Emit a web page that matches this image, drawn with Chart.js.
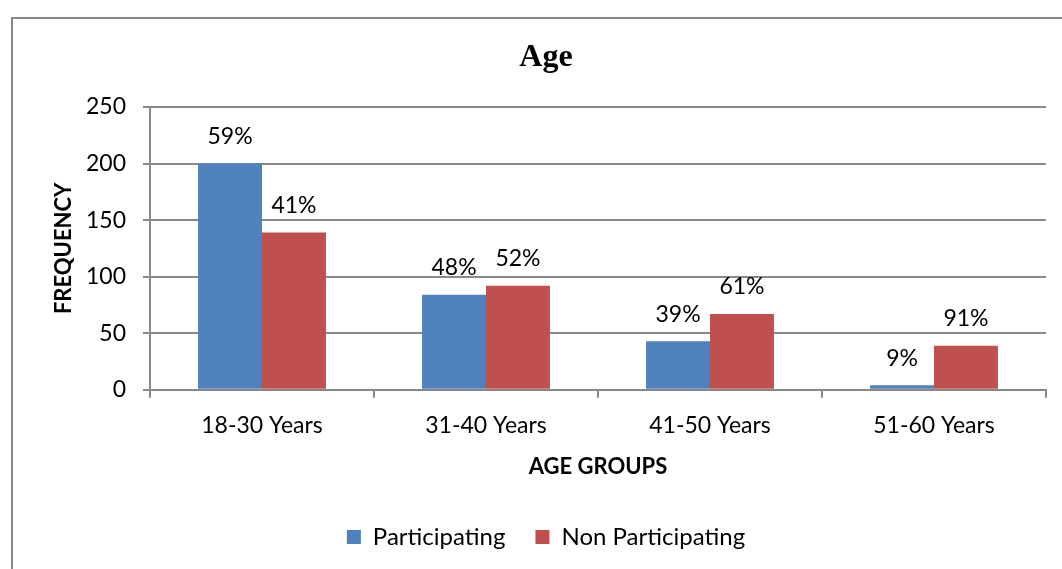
<!DOCTYPE html>
<html><head><meta charset="utf-8">
<script src="https://cdn.jsdelivr.net/npm/chart.js@4"></script>
<style>
html,body{margin:0;padding:0;background:#fff;overflow:hidden;width:1062px;height:569px;}
#frame{position:absolute;left:11px;top:17px;width:1200px;height:700px;border:2px solid #898989;box-sizing:border-box;}
#c{position:absolute;left:0;top:0;}
</style></head><body>
<div id="frame"></div>
<canvas id="c" width="1062" height="564"></canvas>
<script>
const categories = ['18-30 Years', '31-40 Years', '41-50 Years', '51-60 Years'];
const participating = [200, 84, 43, 4];
const nonParticipating = [139, 92, 67, 39];
const participatingPct = ['59%', '48%', '39%', '9%'];
const nonParticipatingPct = ['41%', '52%', '61%', '91%'];
const yTicks = [0, 50, 100, 150, 200, 250];

const GRID = '#898989';
const SANS = 'Lato';
const FS = 23;

const pctLabels = {
  id: 'pctLabels',
  afterDatasetsDraw(chart) {
    const ctx = chart.ctx;
    const sets = [participatingPct, nonParticipatingPct];
    ctx.save();
    ctx.font = FS + 'px ' + SANS;
    ctx.fillStyle = '#000';
    ctx.textAlign = 'center';
    ctx.textBaseline = 'middle';
    chart.data.datasets.forEach((ds, i) => {
      const meta = chart.getDatasetMeta(i);
      meta.data.forEach((el, j) => {
        ctx.fillText(sets[i][j], el.x, el.y - 27);
      });
    });
    ctx.restore();
  }
};

new Chart(document.getElementById('c'), {
  type: 'bar',
  data: {
    labels: categories,
    datasets: [
      { label: 'Participating', data: participating, backgroundColor: '#4F81BD' },
      { label: 'Non Participating', data: nonParticipating, backgroundColor: '#C0504D' }
    ]
  },
  options: {
    responsive: false,
    animation: false,
    layout: { padding: { left: 46, right: 16, top: 18, bottom: 5 } },
    datasets: { bar: { categoryPercentage: 0.571, barPercentage: 1.0 } },
    plugins: {
      title: {
        display: true,
        text: 'Age',
        color: '#000',
        font: { family: 'Liberation Serif', size: 32, weight: 'bold' },
        padding: { top: 21, bottom: 29.6 }
      },
      legend: {
        position: 'bottom',
        labels: {
          color: '#000',
          font: { family: SANS, size: 24 },
          boxWidth: 14,
          boxHeight: 14,
          padding: 30
        }
      },
      tooltip: { enabled: false }
    },
    scales: {
      x: {
        offset: true,
        grid: { drawOnChartArea: false, drawTicks: true, offset: true, tickLength: 8, color: GRID, lineWidth: 2 },
        border: { display: true, color: GRID, width: 2 },
        ticks: { color: '#000', font: { family: SANS, size: FS }, padding: 14, maxRotation: 0 },
        title: {
          display: true,
          text: 'AGE GROUPS',
          color: '#000',
          font: { family: SANS, size: 22, weight: 'bold' },
          padding: { top: 0.6, bottom: 14.6 }
        }
      },
      y: {
        min: 0,
        max: 250,
        afterBuildTicks(scale) { scale.ticks = yTicks.map(v => ({ value: v })); },
        afterFit(scale) { scale.width = 104; },
        grid: { color: GRID, lineWidth: 2, tickLength: 7, drawTicks: true },
        border: { display: true, color: GRID, width: 2 },
        ticks: { color: '#000', font: { family: SANS, size: FS }, padding: 17 },
        title: {
          display: true,
          text: 'FREQUENCY',
          color: '#000',
          font: { family: SANS, size: 22, weight: 'bold' },
          padding: { top: 4.3, bottom: 11 }
        }
      }
    }
  },
  plugins: [pctLabels]
});
</script>
</body></html>
